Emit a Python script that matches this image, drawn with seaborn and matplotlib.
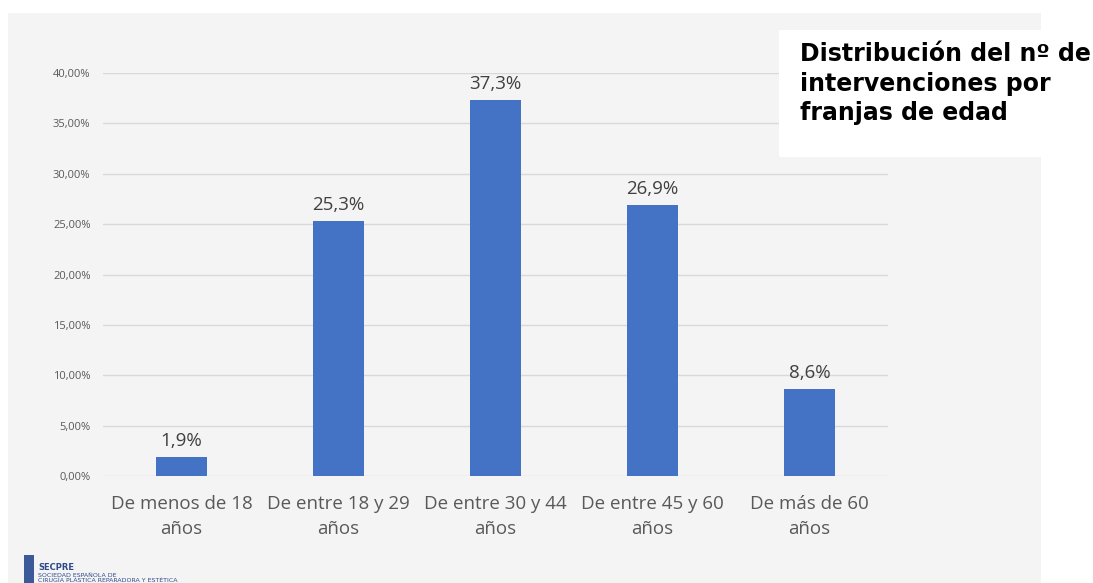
import matplotlib
matplotlib.use("Agg")
import matplotlib.pyplot as plt
import seaborn as sns
from matplotlib.patches import Rectangle
from matplotlib.ticker import FuncFormatter, MultipleLocator

# Datos
grupos = ["De menos de 18\naños", "De entre 18 y 29\naños", "De entre 30 y 44\naños",
          "De entre 45 y 60\naños", "De más de 60\naños"]
porcentajes = [1.9, 25.3, 37.3, 26.9, 8.6]
etiquetas = ["1,9%", "25,3%", "37,3%", "26,9%", "8,6%"]

sns.set_style("white")
plt.rcParams['font.family'] = ['Open Sans', 'DejaVu Sans']

fig = plt.figure(figsize=(10.93, 5.83), dpi=100)
fig.patch.set_facecolor("white")

# panel gris de fondo
fig.patches.append(Rectangle((8/1093, 0), (1041-8)/1093, (583-13)/583,
                             transform=fig.transFigure, facecolor="#f4f4f4",
                             edgecolor="none", zorder=-5))

ax = fig.add_axes([103/1093, 107/583, 785/1093, 403/583])
ax.set_zorder(1)
ax.set_facecolor("none")

sns.barplot(x=grupos, y=porcentajes, color="#4472c4", width=0.32, saturation=1,
            linewidth=0, ax=ax, zorder=3)
ax.bar_label(ax.containers[0], labels=etiquetas, padding=5, fontsize=13.5, color="#404040")

ax.set_xlim(-0.5, 4.5)
ax.set_ylim(0, 40)
ax.yaxis.set_major_locator(MultipleLocator(5))
ax.yaxis.set_major_formatter(FuncFormatter(lambda v, p: f"{v:.2f}".replace(".", ",") + "%"))
ax.grid(axis="y", color="#d9d9d9", linewidth=1, zorder=0)
ax.set_axisbelow(True)
for s in ax.spines.values():
    s.set_visible(False)
ax.tick_params(axis="y", labelsize=8, colors="#595959", length=0, pad=9)
ax.tick_params(axis="x", labelsize=13.5, colors="#595959", length=0, pad=14)
for lbl in ax.get_xticklabels():
    lbl.set_linespacing(1.45)

# recuadro del título
fig.patches.append(Rectangle((779/1093, (583-157)/583), (1093-779)/1093, 127/583,
                             transform=fig.transFigure, facecolor="white",
                             edgecolor="none", zorder=5))
fig.text(800/1093, (583-42)/583, "Distribución del nº de\nintervenciones por\nfranjas de edad",
         fontsize=17, fontweight="bold", family="DejaVu Sans", color="black",
         va="top", ha="left", linespacing=1.3, zorder=6)

# logo
fig.patches.append(Rectangle((24/1093, 0), 10/1093, 28/583, transform=fig.transFigure,
                             facecolor="#3c5a99", edgecolor="none", zorder=5))
fig.text(38/1093, 13/583, "SECPRE", fontsize=6, fontweight="bold", color="#2e4a8a", family="DejaVu Sans")
fig.text(38/1093, 6/583, "SOCIEDAD ESPAÑOLA DE", fontsize=4.5, color="#2e4a8a", family="DejaVu Sans")
fig.text(38/1093, 0.5/583, "CIRUGÍA PLÁSTICA REPARADORA Y ESTÉTICA", fontsize=4.5, color="#2e4a8a", family="DejaVu Sans")

fig.savefig("out.png", dpi=100)
